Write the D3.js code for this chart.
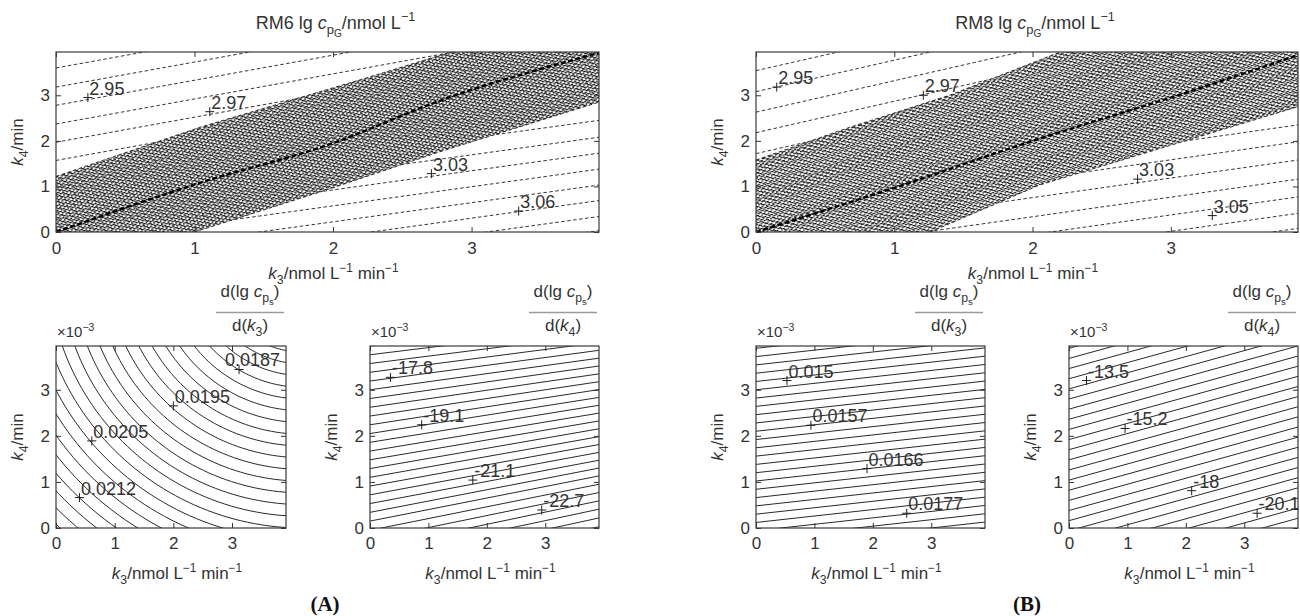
<!DOCTYPE html>
<html><head><meta charset="utf-8">
<script src="https://cdn.jsdelivr.net/npm/d3@7"></script>
<style>
body{margin:0;background:#fff}
svg{display:block}
text{font-family:"Liberation Sans",Arial,Helvetica,sans-serif;fill:#333}
</style>
</head><body>
<svg id="chart" width="1300" height="616"></svg>
<script>
// ---------------- data ----------------
const xDomain = [0, 3.92];
const yDomain = [0, 3.95];
const xTicks = [0, 1, 2, 3];
const yTicks = [0, 1, 2, 3];

// RM6 lg c_pG (panel A, top)
const rm6Upper = [[0,1.22],[1.04,2.3],[2.24,3.38],[2.85,3.95]];
const rm6Lower = [[1.0,0],[2.0,0.97],[2.77,1.76],[3.92,2.85]];
const rm6Ridge = [[0,0],[1.04,1.08],[2.0,1.95],[2.77,2.88],[3.92,3.93]];
const rm6UpLeft = [3.6,3.18,2.78,2.37,1.97,1.57];      // k4 at k3 = 0
const rm6UpLeftSlope = 0.55;
const rm6LowRight = [2.45,2.08,1.73,1.38,1.03,0.69,0.34,0.03]; // k4 at right edge
const rm6LowRightSlope = 0.42;
const rm6LabelText = ["2.95","2.97","3.03","3.06"];
const rm6LabelX = [0.23,1.11,2.71,3.34];
const rm6LabelY = [2.95,2.64,1.28,0.46];

// RM8 lg c_pG (panel B, top)
const rm8Upper = [[0,1.58],[0.68,2.3],[1.4,3.0],[2.2,3.95]];
const rm8Lower = [[1.26,0],[2.05,1.03],[3.92,2.75]];
const rm8Ridge = [[0,0],[1,0.97],[2,2.0],[3,2.95],[3.92,3.88]];
const rm8UpLeft = [3.54,3.08,2.63,2.18,1.72];
const rm8UpLeftSlope = 0.69;
const rm8LowRight = [2.35,1.98,1.58,1.16,0.77,0.41,0.08];
const rm8LowRightSlope = 0.43;
const rm8LabelText = ["2.95","2.97","3.03","3.05"];
const rm8LabelX = [0.15,1.21,2.76,3.3];
const rm8LabelY = [3.18,3.0,1.16,0.36];

// d(lg c_ps)/d(k3), RM6 : elliptic contours around a centre beyond the upper right corner
const a1Centre = [4.21, 5.79];
const a1Aspect = 1.273;
const a1Radius = [1.55,1.75,1.95,2.15,2.35,2.55,2.75,2.95,3.15,3.35,3.55,3.75,3.95,4.15,4.35,4.55,4.75,4.95,5.15,5.35,5.55,5.75,5.95,6.15];
const a1LabelText = ["0.0212","0.0205","0.0195","0.0187"];
const a1LabelX = [0.4,0.61,2.0,3.12];
const a1LabelY = [0.66,1.89,2.65,3.44];

// d(lg c_ps)/d(k4), RM6
const a2Left  = [3.95,3.76,3.57,3.38,3.19,3.0,2.81,2.62,2.43,2.24,2.05,1.86,1.67,1.48,1.29,1.10,0.91,0.72,0.53,0.34,0.15,-0.05,-0.25,-0.45,-0.65,-0.86,-1.07];
const a2Slope = [0.15,0.155,0.16,0.165,0.17,0.175,0.18,0.185,0.19,0.195,0.2,0.205,0.21,0.215,0.22,0.225,0.23,0.235,0.24,0.245,0.25,0.255,0.26,0.265,0.27,0.275,0.28];
const a2LabelText = ["-17.8","-19.1","-21.1","-22.7"];
const a2LabelX = [0.35,0.885,1.76,2.94];
const a2LabelY = [3.27,2.24,1.04,0.39];

// d(lg c_ps)/d(k3), RM8
const b1Left = [3.9,3.72,3.54,3.36,3.18,3.0,2.82,2.64,2.46,2.28,2.1,1.92,1.74,1.56,1.38,1.2,1.02,0.84,0.66,0.48,0.3,0.12,-0.06,-0.24,-0.42];
const b1Slope = 0.14;
const b1LabelText = ["0.015","0.0157","0.0166","0.0177"];
const b1LabelX = [0.53,0.94,1.9,2.58];
const b1LabelY = [3.2,2.23,1.29,0.32];

// d(lg c_ps)/d(k4), RM8
const b2Left = [3.9,3.68,3.46,3.24,3.02,2.8,2.58,2.36,2.14,1.92,1.7,1.48,1.26,1.04,0.82,0.6,0.38,0.16,-0.06,-0.28,-0.5,-0.72,-0.94,-1.16,-1.38];
const b2Slope = 0.35;
const b2LabelText = ["-13.5","-15.2","-18","-20.1"];
const b2LabelX = [0.3,0.96,2.1,3.22];
const b2LabelY = [3.2,2.16,0.81,0.32];

// ---------------- drawing ----------------
const svg = d3.select("#chart");
const defs = svg.append("defs");
const INK = "#1e1e1e";

function makePattern(id, w, h, rot, rects){
  const p = defs.append("pattern").attr("id", id).attr("patternUnits","userSpaceOnUse")
    .attr("width", w).attr("height", h).attr("patternTransform", `rotate(${rot})`);
  rects.forEach(r => p.append("rect").attr("x", r[0]).attr("y", r[1]).attr("width", r[2]).attr("height", r[3]).attr("fill", "#111"));
}
makePattern("hatch6a", 7, 3.4, -18, [[0,0,4.6,1.15],[3.5,1.7,4.6,1.15],[-3.5,1.7,4.6,1.15]]);
makePattern("hatch6b", 5, 5, -58, [[0,0,0.9,3]]);
makePattern("hatch8a", 7, 3.4, -18, [[0,0,4.2,1.05],[3.5,1.7,4.2,1.05],[-3.5,1.7,4.2,1.05]]);
makePattern("hatch8b", 4, 5, -70, [[0,0,1,3.2]]);

let clipId = 0;
function panel(x0, x1, y0, y1){
  const x = d3.scaleLinear(xDomain, [x0, x1]);
  const y = d3.scaleLinear(yDomain, [y1, y0]);
  const id = "clip" + (clipId++);
  defs.append("clipPath").attr("id", id).append("rect")
    .attr("x", x0).attr("y", y0).attr("width", x1 - x0).attr("height", y1 - y0);
  const g = svg.append("g");
  const inner = g.append("g").attr("clip-path", `url(#${id})`);
  return {x, y, g, inner, x0, x1, y0, y1};
}

function rich(g, x, y, segs, size, anchor, rotate){
  const t = g.append("text").attr("x", x).attr("y", y).attr("font-size", size)
    .attr("text-anchor", anchor || "start");
  if (rotate) t.attr("transform", `rotate(${rotate},${x},${y})`);
  let shift = 0;
  segs.forEach(s => {
    const kind = s[1] || "";
    let target = 0, fs = size;
    if (kind === "sub") { target = size*0.28; fs = size*0.72; }
    if (kind === "subsub") { target = size*0.45; fs = size*0.56; }
    if (kind === "sup") { target = -size*0.42; fs = size*0.7; }
    const ts = t.append("tspan").text(s[0]).attr("font-size", fs);
    if (target - shift !== 0) ts.attr("dy", target - shift);
    if (kind === "i") ts.attr("font-style", "italic");
    shift = target;
  });
  return t;
}

function frameAndAxes(P, padX){
  const {x, y, g, x0, x1, y0, y1} = P;
  const fmt = d3.format("d");
  const styleAxis = sel => {
    sel.attr("font-size", 17).attr("font-family", '"Liberation Sans",Arial,sans-serif').attr("color", "#333");
    sel.select(".domain").remove();
    sel.selectAll(".tick line").attr("stroke-width", 1);
  };
  g.append("g").attr("transform", `translate(0,${y1})`)
    .call(d3.axisBottom(x).tickValues(xTicks).tickSizeInner(-5).tickSizeOuter(0).tickPadding(padX).tickFormat(fmt)).call(styleAxis);
  g.append("g").attr("transform", `translate(${x0},0)`)
    .call(d3.axisLeft(y).tickValues(yTicks).tickSizeInner(-5).tickSizeOuter(0).tickPadding(6).tickFormat(fmt)).call(styleAxis);
  g.append("g").attr("transform", `translate(0,${y0})`)
    .call(d3.axisTop(x).tickValues(xTicks).tickSizeInner(-5).tickSizeOuter(0).tickFormat("")).call(styleAxis);
  g.append("g").attr("transform", `translate(${x1},0)`)
    .call(d3.axisRight(y).tickValues(yTicks).tickSizeInner(-5).tickSizeOuter(0).tickFormat("")).call(styleAxis);
  g.append("rect").attr("x", x0).attr("y", y0).attr("width", x1 - x0).attr("height", y1 - y0)
    .attr("fill", "none").attr("stroke", "#3a3a3a").attr("stroke-width", 1.2);
}

function labels(P, texts, xs, ys, size){
  const {x, y, g} = P;
  texts.forEach((t, i) => {
    const px = x(xs[i]), py = y(ys[i]);
    g.append("path").attr("d", `M${px-4.5},${py}H${px+4.5}M${px},${py-4.5}V${py+4.5}`)
      .attr("stroke", INK).attr("stroke-width", 1);
    const tx = g.append("text").attr("x", px + 1.5).attr("y", py - 3).attr("font-size", size).text(t);
    const w = tx.node().getComputedTextLength();
    if (px + 1.5 + w > P.x1 + 6) tx.attr("x", P.x1 - 6 - w);
  });
}

function kLabelX(P, baseline){
  rich(P.g, (P.x0 + P.x1)/2 + 6, baseline, [["k","i"],["3","sub"],["/nmol L"],["\u22121","sup"],[" min"],["\u22121","sup"]], 17, "middle");
}
function kLabelY(P){
  rich(P.g, P.x0 - 33, (P.y0 + P.y1)/2, [["k","i"],["4","sub"],["/min"]], 17, "middle", -90);
}

function topPanel(x0, x1, upper, lower, ridge, ul, ulS, lr, lrS, pA, pB, texts, lx, ly, title){
  const P = panel(x0, x1, 52, 232);
  const {x, y, inner} = P;
  const line = d3.line().x(d => x(d[0])).y(d => y(d[1]));
  const xmax = xDomain[1], ymax = yDomain[1];
  // sparse contours
  ul.forEach(b => inner.append("path").attr("d", line([[0, b],[xmax, b + ulS*xmax]]))
    .attr("fill","none").attr("stroke", INK).attr("stroke-width", 0.9).attr("stroke-dasharray","3.5,2.5"));
  lr.forEach(r => inner.append("path").attr("d", line([[0, r - lrS*xmax],[xmax, r]]))
    .attr("fill","none").attr("stroke", INK).attr("stroke-width", 0.9).attr("stroke-dasharray","3.5,2.5"));
  // dense band
  const poly = [[0,0]].concat(upper, [[xmax, ymax]], lower.slice().reverse());
  const area = line(poly) + "Z";
  inner.append("path").attr("d", area).attr("fill", "#fff");
  inner.append("path").attr("d", area).attr("fill", `url(#${pA})`);
  inner.append("path").attr("d", area).attr("fill", `url(#${pB})`).attr("opacity", 0.85);
  [upper, lower].forEach(b => inner.append("path").attr("d", line(b)).attr("fill","none")
    .attr("stroke", INK).attr("stroke-width", 0.9).attr("stroke-dasharray","3.5,2.5"));
  inner.append("path").attr("d", line.curve(d3.curveMonotoneX)(ridge)).attr("fill","none")
    .attr("stroke", "#000").attr("stroke-width", 2.4).attr("stroke-dasharray", "5,2.5");
  labels(P, texts, lx, ly, 18);
  frameAndAxes(P, 10);
  kLabelX(P, 279);
  kLabelY(P);
  rich(P.g, (x0 + x1)/2 + 8, 29, [[title + " lg "],["c","i"],["p","sub"],["G","subsub"],["/nmol L"],["\u22121","sup"]], 18, "middle");
  return P;
}

function bottomDecor(P, kIdx){
  const cx = P.x1 - 36;
  rich(P.g, cx, 297, [["d(lg "],["c","i"],["p","sub"],["s","subsub"],[")"]], 17, "middle");
  P.g.append("line").attr("x1", cx - 34).attr("x2", cx + 34).attr("y1", 312.5).attr("y2", 312.5)
    .attr("stroke", "#9a9a9a").attr("stroke-width", 1.3);
  rich(P.g, cx, 331, [["d("],["k","i"],[kIdx,"sub"],[")"]], 17, "middle");
  rich(P.g, P.x0 + 1, 337, [["\u00d710"],["\u22123","sup"]], 15, "start");
  frameAndAxes(P, 9);
  kLabelX(P, 579);
  kLabelY(P);
}

function straightPanel(x0, x1, lefts, slopes, texts, lx, ly, kIdx){
  const P = panel(x0, x1, 346, 528);
  const {x, y, inner} = P;
  const line = d3.line().x(d => x(d[0])).y(d => y(d[1]));
  const xmax = xDomain[1];
  lefts.forEach((b, i) => {
    const s = Array.isArray(slopes) ? slopes[i] : slopes;
    inner.append("path").attr("d", line([[0, b],[xmax, b + s*xmax]]))
      .attr("fill","none").attr("stroke", INK).attr("stroke-width", 0.95);
  });
  labels(P, texts, lx, ly, 18);
  bottomDecor(P, kIdx);
}

// top panels
topPanel(56, 599, rm6Upper, rm6Lower, rm6Ridge, rm6UpLeft, rm6UpLeftSlope, rm6LowRight, rm6LowRightSlope,
  "hatch6a", "hatch6b", rm6LabelText, rm6LabelX, rm6LabelY, "RM6");
topPanel(756, 1298, rm8Upper, rm8Lower, rm8Ridge, rm8UpLeft, rm8UpLeftSlope, rm8LowRight, rm8LowRightSlope,
  "hatch8a", "hatch8b", rm8LabelText, rm8LabelX, rm8LabelY, "RM8");

// bottom-left: elliptic contours
(function(){
  const P = panel(56, 286, 346, 528);
  const {x, y, inner} = P;
  const line = d3.line().x(d => x(d[0])).y(d => y(d[1]));
  const steps = d3.range(0, 91, 1.5).map(a => a * Math.PI / 180);
  a1Radius.forEach(r => {
    const pts = steps.map(t => [a1Centre[0] - r*Math.cos(t), a1Centre[1] - r*a1Aspect*Math.sin(t)]);
    inner.append("path").attr("d", line.curve(d3.curveBasis)(pts)).attr("fill","none")
      .attr("stroke", INK).attr("stroke-width", 0.95);
  });
  labels(P, a1LabelText, a1LabelX, a1LabelY, 18);
  bottomDecor(P, "3");
})();

straightPanel(370, 599, a2Left, a2Slope, a2LabelText, a2LabelX, a2LabelY, "4");
straightPanel(756, 985, b1Left, b1Slope, b1LabelText, b1LabelX, b1LabelY, "3");
straightPanel(1069, 1298, b2Left, b2Slope, b2LabelText, b2LabelX, b2LabelY, "4");

// panel letters
svg.append("text").attr("x", 325).attr("y", 611).attr("text-anchor","middle")
  .style("font-family", '"Liberation Serif","Times New Roman",serif').style("font-weight","bold")
  .style("fill","#111").attr("font-size", 21).text("(A)");
svg.append("text").attr("x", 1027).attr("y", 611).attr("text-anchor","middle")
  .style("font-family", '"Liberation Serif","Times New Roman",serif').style("font-weight","bold")
  .style("fill","#111").attr("font-size", 21).text("(B)");
</script>
</body></html>
